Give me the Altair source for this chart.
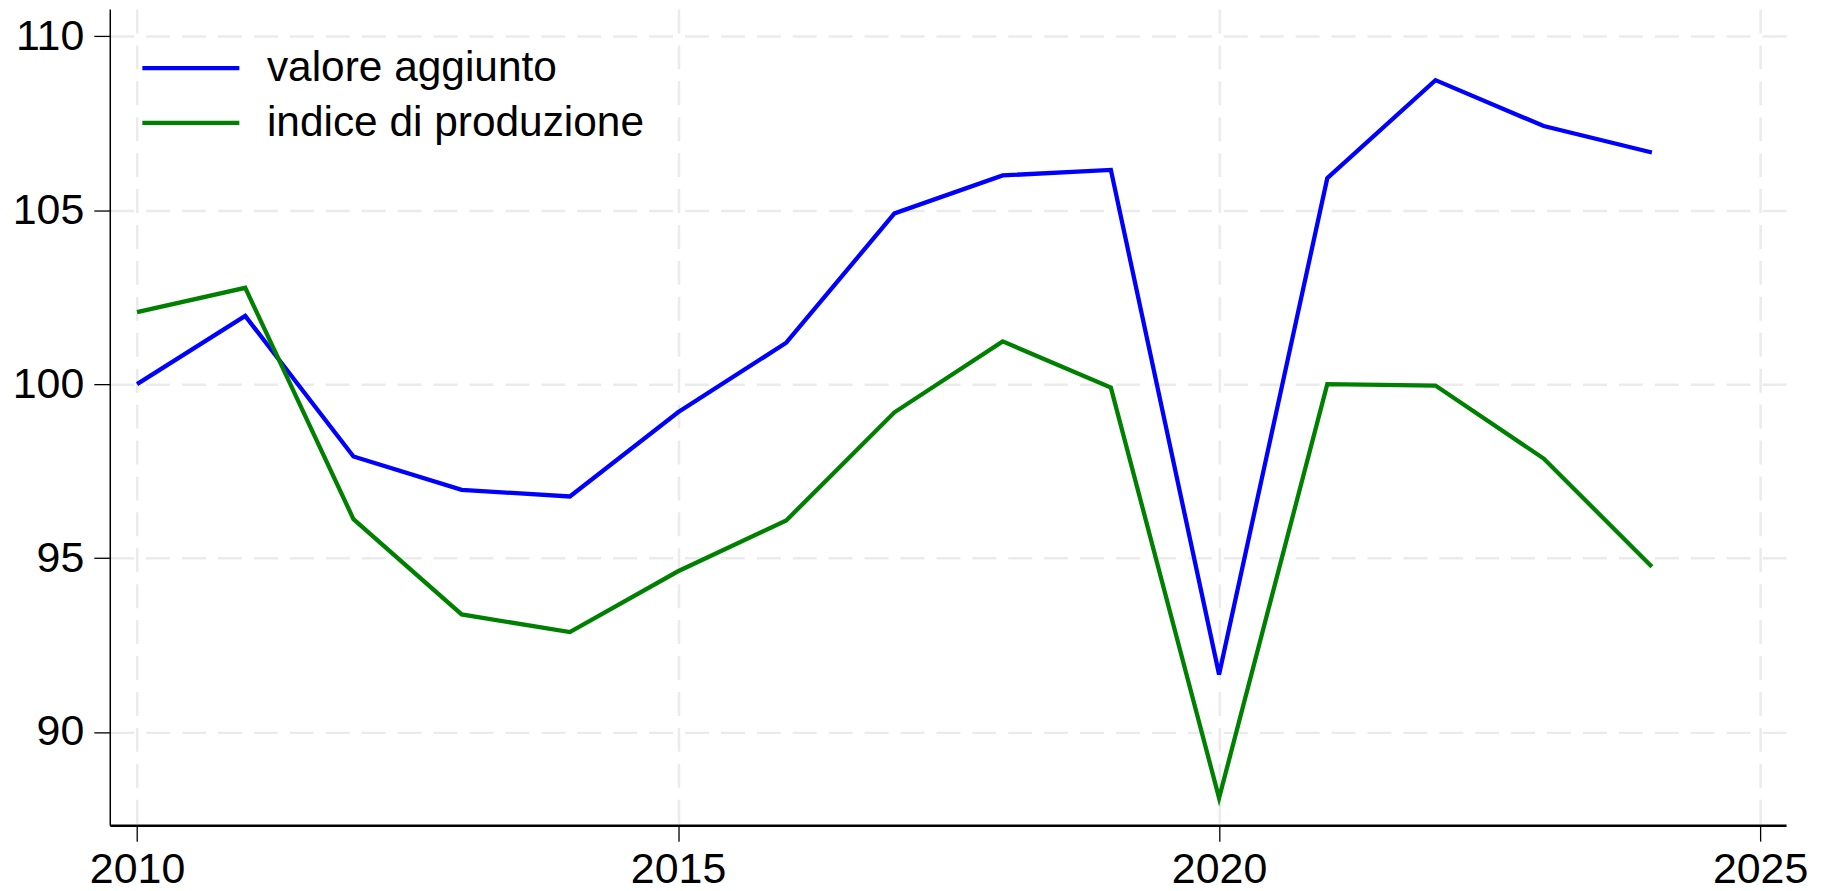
import altair as alt
import pandas as pd

years = list(range(2010, 2025))
valore_aggiunto = [100.0, 101.96, 97.92, 96.96, 96.77, 99.19, 101.19, 104.91, 106.0, 106.16,
                   91.65, 105.92, 108.74, 107.42, 106.66]
indice_produzione = [102.07, 102.77, 96.12, 93.38, 92.87, 94.62, 96.08, 99.19, 101.23, 99.9,
                     88.10, 100.0, 99.96, 97.86, 94.75]
series_names = ["valore aggiunto", "indice di produzione"]
series_colors = ["#0000ff", "#008000"]
x_ticks = [2010, 2015, 2020, 2025]
y_ticks = [90, 95, 100, 105, 110]

df = pd.concat([
    pd.DataFrame({"anno": years, "valore": valore_aggiunto, "serie": series_names[0]}),
    pd.DataFrame({"anno": years, "valore": indice_produzione, "serie": series_names[1]}),
])

FONT = "Liberation Sans"
axis_common = dict(
    title=None, tickSize=16, labelFontSize=43, labelFont=FONT, labelColor="black",
    domainColor="black", tickColor="black", tickWidth=1.3,
    grid=True, gridColor="#ebebeb", gridDash=[24, 12], gridWidth=2.5,
)

chart = alt.Chart(df).mark_line(strokeWidth=4.3, strokeCap="butt", strokeJoin="miter").encode(
    x=alt.X("anno:Q",
            scale=alt.Scale(domain=[2009.748, 2025.24], nice=False, zero=False),
            axis=alt.Axis(values=x_ticks, format="d", labelPadding=7, domainWidth=2.5,
                          **axis_common)),
    y=alt.Y("valore:Q",
            scale=alt.Scale(domain=[87.32, 110.786], nice=False, zero=False),
            axis=alt.Axis(values=y_ticks, labelPadding=10, domainWidth=1.5,
                          **axis_common)),
    color=alt.Color("serie:N",
                    scale=alt.Scale(domain=series_names, range=series_colors),
                    sort=series_names,
                    legend=alt.Legend(title=None, orient="none", legendX=60, legendY=38,
                                      symbolType="M-3,0H3", symbolSize=1050,
                                      symbolStrokeWidth=4.3, labelFontSize=42.5,
                                      labelOffset=55, rowPadding=12, padding=0,
                                      labelLimit=0, labelFont=FONT, labelColor="black")),
    order=alt.Order("anno:Q"),
).properties(
    width=1680, height=818,
    padding={"left": 4, "top": 0, "right": 5, "bottom": 0},
    background="white",
).configure_view(stroke=None)

chart.save("out.html", embed_options={"renderer": "svg", "actions": False})
